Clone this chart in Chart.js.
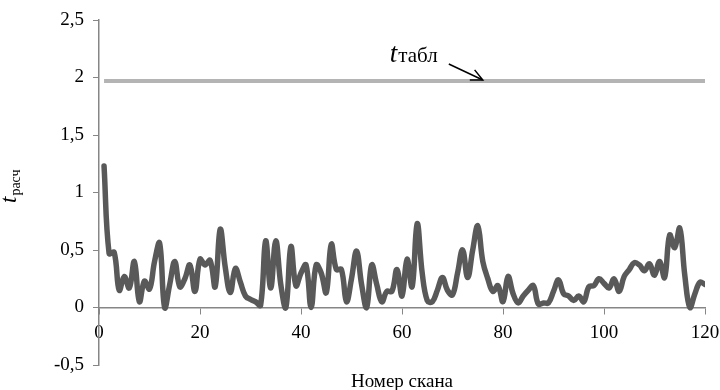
<!DOCTYPE html>
<html>
<head>
<meta charset="utf-8">
<script src="https://cdn.jsdelivr.net/npm/chart.js@4/dist/chart.umd.min.js"></script>
<style>
  html, body { margin: 0; padding: 0; background: #ffffff; }
  #wrap { width: 720px; height: 390px; }
</style>
</head>
<body>
<div id="wrap"><canvas id="c" width="720" height="390"></canvas></div>
<script>
// ---- data ----
const tRasch = [
  1.23, 0.47, 0.48, 0.15, 0.27, 0.17, 0.40, 0.05, 0.23, 0.16,
  0.40, 0.56, 0.00, 0.20, 0.40, 0.18, 0.25, 0.37, 0.14, 0.42,
  0.37, 0.41, 0.18, 0.68, 0.35, 0.13, 0.34, 0.22, 0.10, 0.07,
  0.05, 0.02, 0.58, 0.17, 0.58, 0.20, 0.00, 0.53, 0.19, 0.30,
  0.37, 0.00, 0.37, 0.30, 0.13, 0.55, 0.33, 0.33, 0.05, 0.25,
  0.49, 0.20, 0.00, 0.37, 0.20, 0.05, 0.14, 0.14, 0.33, 0.10,
  0.42, 0.18, 0.73, 0.30, 0.06, 0.05, 0.15, 0.26, 0.15, 0.11,
  0.30, 0.50, 0.26, 0.50, 0.71, 0.40, 0.25, 0.14, 0.19, 0.05,
  0.27, 0.12, 0.04, 0.10, 0.15, 0.19, 0.03, 0.04, 0.04, 0.14,
  0.24, 0.12, 0.10, 0.06, 0.10, 0.05, 0.18, 0.19, 0.25, 0.21,
  0.17, 0.25, 0.14, 0.27, 0.33, 0.39, 0.37, 0.32, 0.38, 0.28,
  0.40, 0.26, 0.63, 0.52, 0.69, 0.28, 0.00, 0.12, 0.22, 0.20
];
const scanNumbers = tRasch.map((_, i) => i + 1);
const tTablValue = 1.97;
const tTablRange = [1, 120];
const xTicks = [0, 20, 40, 60, 80, 100, 120];
const yTicks = [-0.5, 0, 0.5, 1, 1.5, 2, 2.5];
const xTitle = "Номер скана";
const yTitleMain = "t";
const yTitleSub = "расч";
const annMain = "t";
const annSub = "табл";
const annArrowX = 76; // scan number where arrow points on tTabl line

const AXIS = "#868686";
const SERIF = "'Liberation Serif', 'Times New Roman', serif";

const rasch = scanNumbers.map((x, i) => ({ x: x, y: tRasch[i] }));
const tabl = tTablRange.map(x => ({ x: x, y: tTablValue }));

const fmt = v => String(v).replace('.', ',');

const decor = {
  id: 'decor',
  afterDraw(chart) {
    const ctx = chart.ctx;
    const xs = chart.scales.x, ys = chart.scales.y;
    const ca = chart.chartArea;
    ctx.save();
    // x axis title
    ctx.fillStyle = '#000';
    ctx.font = '19px ' + SERIF;
    ctx.textAlign = 'center';
    ctx.textBaseline = 'alphabetic';
    ctx.fillText(xTitle, (ca.left + ca.right) / 2, 387);
    // y axis title (rotated, with subscript)
    ctx.save();
    ctx.translate(16, 203);
    ctx.rotate(-Math.PI / 2);
    ctx.textAlign = 'left';
    ctx.font = 'italic 23px ' + SERIF;
    ctx.fillText(yTitleMain, 0, 0);
    const w = ctx.measureText(yTitleMain).width;
    ctx.font = '14px ' + SERIF;
    ctx.fillText(yTitleSub, w + 1, 4);
    ctx.restore();
    // annotation t_табл with arrow
    const tipX = xs.getPixelForValue(annArrowX);
    const tipY = ys.getPixelForValue(tTablValue) - 1;
    const sx = tipX - 34, sy = tipY - 16;
    ctx.strokeStyle = '#000';
    ctx.lineWidth = 1.5;
    ctx.beginPath();
    ctx.moveTo(sx, sy);
    ctx.lineTo(tipX, tipY);
    ctx.stroke();
    const ang = Math.atan2(tipY - sy, tipX - sx);
    const hl = 13;
    ctx.beginPath();
    ctx.moveTo(tipX - hl * Math.cos(ang - 0.45), tipY - hl * Math.sin(ang - 0.45));
    ctx.lineTo(tipX, tipY);
    ctx.lineTo(tipX - hl * Math.cos(ang + 0.45), tipY - hl * Math.sin(ang + 0.45));
    ctx.stroke();
    // text
    ctx.fillStyle = '#000';
    ctx.textAlign = 'left';
    ctx.font = 'italic 27px ' + SERIF;
    const textX = tipX - 93, textY = tipY - 18;
    ctx.fillText(annMain, textX, textY);
    const w2 = ctx.measureText(annMain).width;
    ctx.font = '21px ' + SERIF;
    ctx.fillText(annSub, textX + w2 + 1, textY);
    ctx.restore();
  }
};

new Chart(document.getElementById('c'), {
  type: 'line',
  data: {
    datasets: [
      {
        label: 'tabl',
        data: tabl,
        borderColor: '#b4b4b4',
        borderWidth: 4,
        pointRadius: 0,
        tension: 0,
        borderCapStyle: 'butt'
      },
      {
        label: 'rasch',
        data: rasch,
        borderColor: '#595959',
        borderWidth: 5.5,
        pointRadius: 0,
        tension: 0.4,
        borderCapStyle: 'round',
        borderJoinStyle: 'round'
      }
    ]
  },
  options: {
    responsive: false,
    animation: false,
    devicePixelRatio: 1,
    layout: { padding: { left: 0, right: 15, top: 20, bottom: 25 } },
    plugins: { legend: { display: false }, tooltip: { enabled: false } },
    scales: {
      x: {
        type: 'linear',
        position: { y: 0 },
        min: 0, max: 120,
        afterBuildTicks: s => { s.ticks = xTicks.map(v => ({ value: v })); },
        afterFit: s => { s.paddingLeft = 0; s.paddingRight = 0; },
        ticks: {
          color: '#000',
          font: { family: SERIF, size: 19 },
          padding: 8,
          maxRotation: 0,
          callback: v => fmt(v)
        },
        grid: { drawOnChartArea: false, tickLength: 6, color: AXIS, lineWidth: 1 },
        border: { color: AXIS, width: 1.5 }
      },
      y: {
        type: 'linear',
        min: -0.5, max: 2.5,
        afterBuildTicks: s => { s.ticks = yTicks.map(v => ({ value: v })); },
        afterFit: s => { s.width = 99; s.paddingTop = 0; s.paddingBottom = 0; },
        ticks: {
          color: '#000',
          font: { family: SERIF, size: 19 },
          padding: 9,
          callback: v => fmt(v)
        },
        grid: { drawOnChartArea: false, tickLength: 6, color: AXIS, lineWidth: 1 },
        border: { color: AXIS, width: 1.5 }
      }
    }
  },
  plugins: [decor]
});
</script>
</body>
</html>
